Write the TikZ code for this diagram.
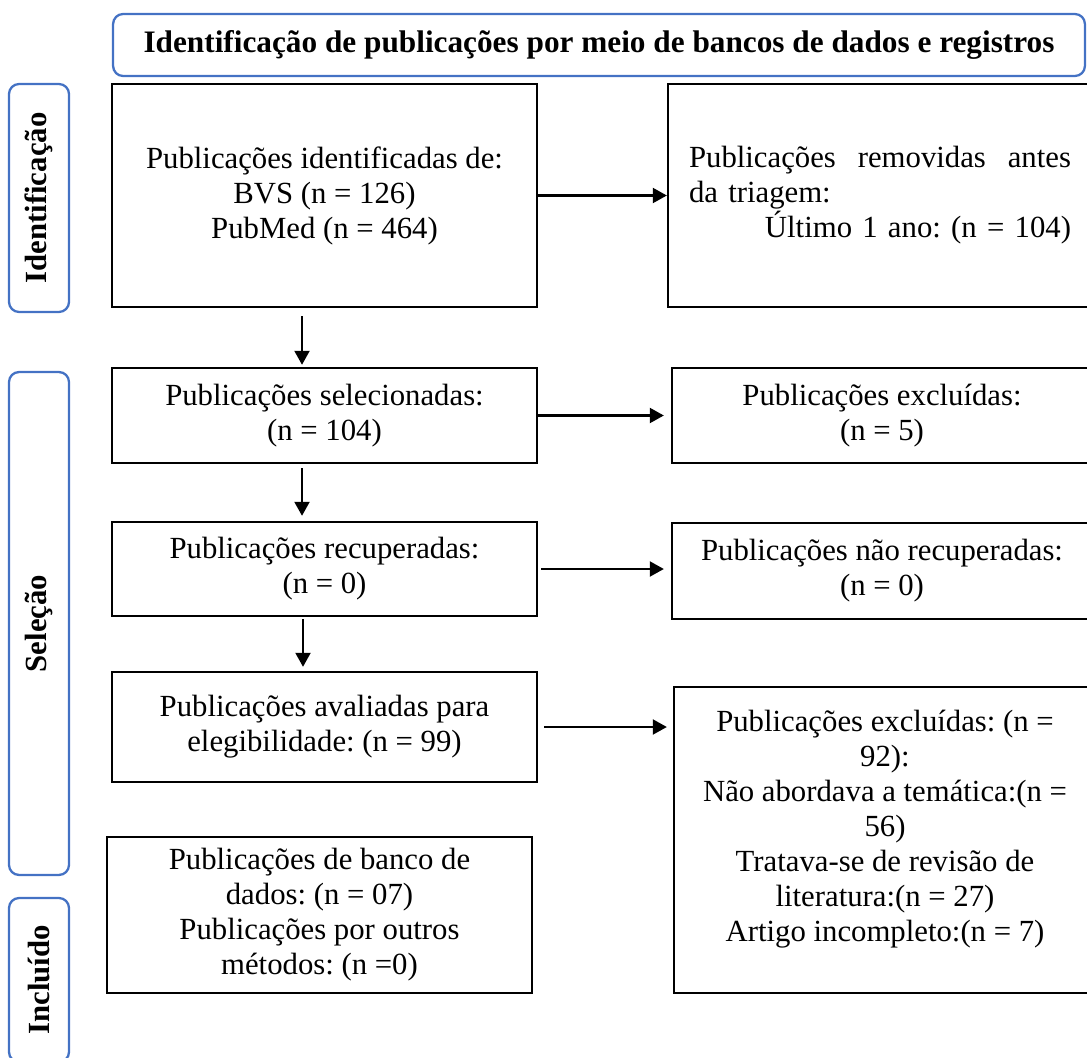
\documentclass[tikz,border=0pt]{standalone}
\usepackage{fontspec}
\setmainfont{Liberation Serif}
\usetikzlibrary{arrows.meta}
\definecolor{prismablue}{HTML}{4472C4}
\frenchspacing

\begin{document}
\begin{tikzpicture}[x=0.02cm, y=-0.02cm]

\tikzset{box/.style = {draw, line width=1.4pt, minimum width=8.5cm, align=center, inner sep=0pt,
  font=\fontsize{17.5}{19.9}\selectfont}}
\tikzset{side/.style = {draw=prismablue, line width=1.3pt, rounded corners=0.2cm, minimum height=1.2cm,
  rotate=90, font=\fontsize{17.5}{19.9}\selectfont\bfseries}}
\tikzset{arrow/.style = {-{Triangle[length=0.28cm, width=0.3cm]}, line width=1.2pt}}

\useasboundingbox (0,0) rectangle (1087,1057);

%header
\node[draw=prismablue, line width=1.3pt, rounded corners=0.2cm, minimum width=19.44cm, minimum height=1.24cm,
  font=\fontsize{17.8}{20}\selectfont\bfseries] (head) at (599,45)
  {Identificação de publicações por meio de bancos de dados e registros};

%phases
\node[side, minimum width=4.56cm] (fase1) at (39,198) {Identificação};
\node[side, minimum width=10.06cm] (fase2) at (39,623.5) {Seleção};
\node[side, minimum width=3.28cm] (fase3) at (39,980) {Incluído};

%left column
\node[box, minimum height=4.46cm] (ident) at (324.5,195.5)
  {Publicações identificadas de:\\ BVS (n = 126)\\ PubMed (n = 464)};
\node[box, minimum height=1.9cm] (selec) at (324.5,415.5)
  {Publicações selecionadas:\\ (n = 104)};
\node[box, minimum height=1.88cm] (recup) at (324.5,569)
  {Publicações recuperadas:\\ (n = 0)};
\node[box, minimum height=2.2cm] (aval) at (324.5,727)
  {Publicações avaliadas para\\ elegibilidade: (n = 99)};
\node[box, minimum height=3.12cm] (incl) at (319.5,915)
  {Publicações de banco de\\ dados: (n = 07)\\ Publicações por outros\\ métodos: (n =0)};

%right column
\node[box, minimum width=8.48cm, minimum height=4.46cm, text width=7.64cm, align=left] (remov) at (880,195.5)
  {Publicações\hfill removidas\hfill antes\\ da triagem:\\ \hfill\mbox{Último 1 ano: (n = 104)}};
\node[box, minimum width=8.4cm, minimum height=1.9cm] (excl) at (882,415.5)
  {Publicações excluídas:\\ (n = 5)};
\node[box, minimum width=8.4cm, minimum height=1.92cm] (naorec) at (882,571)
  {Publicações não recuperadas:\\ (n = 0)};
\node[box, minimum width=8.36cm, minimum height=6.12cm] (excl2) at (883,840) {};
\node[align=center, font=\fontsize{17.5}{19.9}\selectfont] (excl2txt) at (885,829)
  {Publicações excluídas: (n =\\ 92):\\ Não abordava a temática:(n =\\ 56)\\ Tratava-se de revisão de\\ literatura:(n = 27)\\ Artigo incompleto:(n = 7)};

%edges
\draw[arrow] (ident.east) -- (remov.west);
\draw[arrow, shorten >=0.14cm] (selec.east) -- (excl.west);
\draw[arrow, shorten <=0.06cm, shorten >=0.14cm] (recup.east) -- (naorec.west |- recup.east);
\draw[arrow, shorten <=0.12cm, shorten >=0.12cm] (aval.east) -- (excl2.west |- aval.east);
\draw[arrow, shorten <=0.16cm, shorten >=0.04cm] ([xshift=-0.45cm]ident.south) -- ([xshift=-0.45cm]selec.north);
\draw[arrow, shorten <=0.08cm, shorten >=0.1cm] ([xshift=-0.45cm]selec.south) -- ([xshift=-0.45cm]recup.north);
\draw[arrow, shorten <=0.04cm, shorten >=0.08cm] ([xshift=-0.43cm]recup.south) -- ([xshift=-0.43cm]aval.north);

\end{tikzpicture}
\end{document}
